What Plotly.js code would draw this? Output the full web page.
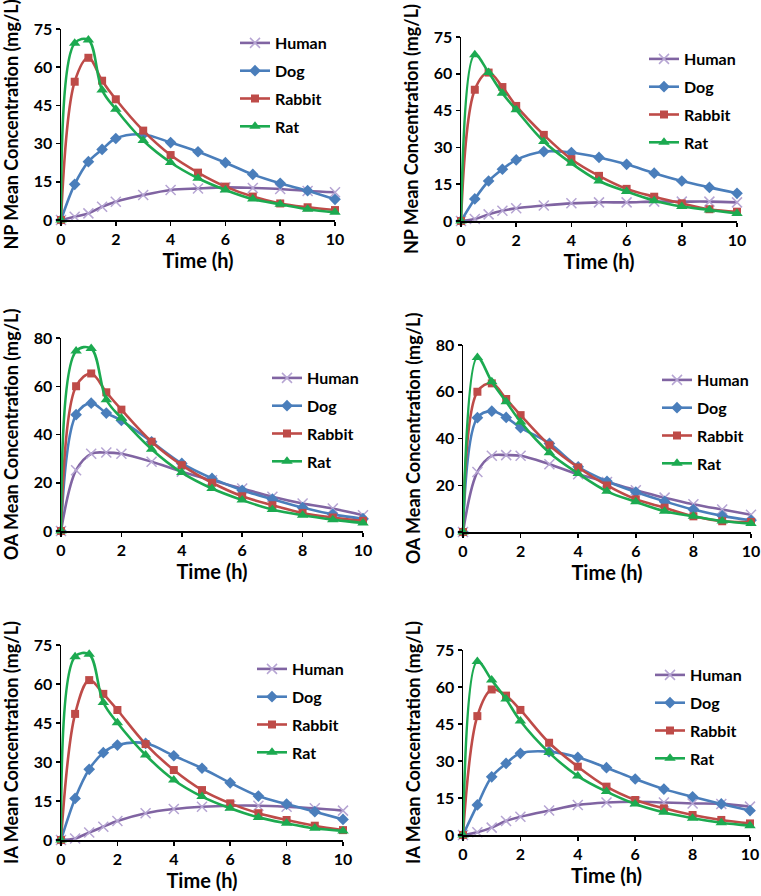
<!DOCTYPE html>
<html>
<head>
<meta charset="utf-8">
<script src="https://cdn.plot.ly/plotly-3.0.1.min.js"></script>
<style>html,body{margin:0;padding:0;background:#fff;} #chart{width:761px;height:896px;}</style>
</head>
<body>
<div id="chart"></div>
<script>
// ---- data ----
const timeH = [0, 0.5, 1, 1.5, 2, 3, 4, 5, 6, 7, 8, 9, 10];
const xTicks = [0, 2, 4, 6, 8, 10];
const species = ['Human', 'Dog', 'Rabbit', 'Rat'];

const npLeftHuman  = [0, 1.3, 2.6, 5.2, 7.2, 9.8, 11.8, 12.4, 12.8, 12.6, 12.2, 11.4, 10.9];
const npLeftDog    = [0, 14, 22.9, 27.7, 32, 33.6, 30.4, 26.8, 22.5, 17.9, 14.4, 11.5, 8.1];
const npLeftRabbit = [0, 54.3, 63.7, 54.7, 47.4, 35.1, 25.5, 18.6, 13.1, 9.2, 6.5, 5.0, 3.9];
const npLeftRat    = [0, 69.4, 70.7, 51, 43.5, 31.2, 22.6, 16.4, 11.8, 8.2, 6.2, 4.2, 3.0];

const npRightHuman  = [0, 0.8, 2.7, 4.2, 5.2, 6.3, 7.2, 7.6, 7.6, 7.9, 7.9, 7.9, 7.6];
const npRightDog    = [0, 9.0, 16.3, 21.1, 24.9, 28.3, 27.9, 25.9, 23.1, 19.5, 16.3, 13.7, 11.3];
const npRightRabbit = [0, 53.5, 60.5, 54.6, 46.9, 35.1, 25.2, 18.4, 13.1, 9.9, 7.2, 4.8, 3.8];
const npRightRat    = [0, 67.8, 60.5, 52.1, 45.3, 32.4, 23.5, 16.3, 12, 8.3, 5.9, 4.5, 3.1];

const oaLeftHuman  = [0, 25.2, 32, 32.5, 32, 28.7, 24.6, 21, 17.6, 14.2, 11.4, 9.3, 6.5];
const oaLeftDog    = [0, 48.2, 53, 48.9, 45.8, 37, 28, 21.8, 16.9, 13.2, 9.7, 6.9, 5.1];
const oaLeftRabbit = [0, 60, 65.3, 57.5, 50.3, 37, 27.3, 20, 14.4, 10.7, 7.5, 5.6, 4.2];
const oaLeftRat    = [0, 74.6, 75.6, 54.4, 46.8, 33.9, 24.2, 17.6, 12.8, 8.9, 6.5, 4.7, 3.3];

const oaRightHuman  = [0, 25.7, 32.6, 32.9, 32.6, 29, 24.7, 21.4, 17.9, 14.7, 11.9, 9.6, 7.4];
const oaRightDog    = [0, 48.9, 51.7, 49, 44.6, 37.9, 27.9, 21.7, 17.1, 13.1, 9.6, 6.9, 5];
const oaRightRabbit = [0, 60, 63.6, 56.9, 50, 37.1, 27.6, 19.9, 14, 10.4, 6.7, 4.6, 4.3];
const oaRightRat    = [0, 74.7, 64.3, 55.7, 47.1, 33.9, 25, 17.4, 12.9, 8.9, 6.7, 4.7, 3.6];

const iaLeftHuman  = [0, 0.6, 2.9, 5.1, 7.3, 10.3, 11.9, 12.8, 13.2, 13.2, 12.8, 12.2, 11.3];
const iaLeftDog    = [0, 16, 27.2, 33.6, 36.5, 37.2, 32.4, 27.6, 22, 16.9, 13.8, 10.9, 7.9];
const iaLeftRabbit = [0, 48.5, 61.5, 56.2, 50, 36.9, 26.9, 19.2, 14.1, 10.3, 7.7, 5.5, 3.8];
const iaLeftRat    = [0, 70.5, 71.4, 52.9, 45.1, 32.7, 23.1, 16.7, 12.2, 8.7, 6.4, 4.5, 3.5];

const iaRightHuman  = [0, 1.1, 3.0, 5.7, 7.4, 9.9, 12.2, 13.2, 13.5, 13.2, 12.8, 12.6, 11.5];
const iaRightDog    = [0, 12.2, 23.6, 29, 33.1, 33.8, 31.5, 27.3, 22.7, 18.6, 15.5, 12.6, 9.9];
const iaRightRabbit = [0, 48.2, 59, 56.5, 50.7, 37.4, 27.7, 19.6, 14.2, 10.8, 8.1, 6.1, 4.7];
const iaRightRat    = [0, 70.3, 62.8, 55.1, 46.2, 33.4, 23.9, 17.6, 12.6, 9.2, 6.8, 5, 3.8];

// ---- styles ----
const W = 761, H = 896;
const FONT = 'Lato, "Open Sans", sans-serif';
const styles = {
  Human:  {line: '#8064A2', marker: {symbol: 'x-thin', size: 10, color: '#B6A5D3', line: {color: '#B6A5D3', width: 1.5}}},
  Dog:    {line: '#4A7EBB', marker: {symbol: 'diamond', size: 9, color: '#4A7EBB'}},
  Rabbit: {line: '#BE4B48', marker: {symbol: 'square', size: 8, color: '#BE4B48'}},
  Rat:    {line: '#1CAA50', marker: {symbol: 'triangle-up', size: 10, color: '#1CAA50'}}
};

const panels = [
  {title: 'NP Mean Concentration (mg/L)', ymax: 75, dy: 15, series: [npLeftHuman, npLeftDog, npLeftRabbit, npLeftRat],
   box: [61, 335, 29, 220], leg: [235, 26]},
  {title: 'NP Mean Concentration (mg/L)', ymax: 75, dy: 15, series: [npRightHuman, npRightDog, npRightRabbit, npRightRat],
   box: [461, 737, 37, 221], leg: [644, 42]},
  {title: 'OA Mean Concentration (mg/L)', ymax: 80, dy: 20, series: [oaLeftHuman, oaLeftDog, oaLeftRabbit, oaLeftRat],
   box: [61, 363, 338, 531], leg: [267, 361]},
  {title: 'OA Mean Concentration (mg/L)', ymax: 80, dy: 20, series: [oaRightHuman, oaRightDog, oaRightRabbit, oaRightRat],
   box: [463, 751, 345, 532], leg: [657, 363]},
  {title: 'IA Mean Concentration (mg/L)', ymax: 75, dy: 15, series: [iaLeftHuman, iaLeftDog, iaLeftRabbit, iaLeftRat],
   box: [61, 343, 645, 840], leg: [252, 652]},
  {title: 'IA Mean Concentration (mg/L)', ymax: 75, dy: 15, series: [iaRightHuman, iaRightDog, iaRightRabbit, iaRightRat],
   box: [463, 750, 650, 835], leg: [650, 658]}
];

const traces = [];
const layout = {
  width: W, height: H,
  margin: {l: 0, r: 0, t: 0, b: 0},
  paper_bgcolor: '#fff', plot_bgcolor: 'rgba(0,0,0,0)',
  font: {family: FONT, color: '#000', weight: 'bold'},
  showlegend: true
};

panels.forEach((p, i) => {
  const n = i + 1;
  const xa = n === 1 ? 'x' : 'x' + n;
  const ya = n === 1 ? 'y' : 'y' + n;
  const legId = n === 1 ? 'legend' : 'legend' + n;
  species.forEach((sp, k) => {
    const st = styles[sp];
    traces.push({
      type: 'scatter', mode: 'lines+markers',
      x: timeH, y: p.series[k], name: sp,
      xaxis: xa, yaxis: ya, legend: legId, legendgroup: 'p' + n + sp,
      line: {color: st.line, width: 2.6, shape: 'spline', smoothing: 1},
      marker: st.marker,
      cliponaxis: false
    });
  });
  const common = {
    showgrid: false, zeroline: false, showline: true,
    linecolor: '#000', linewidth: 1.5,
    ticks: 'outside', ticklen: 4, tickwidth: 1.5, tickcolor: '#000',
    tickfont: {family: FONT, size: 16, color: '#000', weight: 'bold'}
  };
  layout['xaxis' + (n === 1 ? '' : n)] = Object.assign({}, common, {
    domain: [p.box[0] / W, p.box[1] / W], anchor: ya,
    range: [0, 10], tickvals: xTicks, ticktext: xTicks.map(String),
    title: {text: 'Time (h)', font: {family: FONT, size: 20, color: '#000', weight: 'bold'}, standoff: 7}
  });
  layout['yaxis' + (n === 1 ? '' : n)] = Object.assign({}, common, {
    domain: [1 - p.box[3] / H, 1 - p.box[2] / H], anchor: xa,
    range: [0, p.ymax], dtick: p.dy, tick0: 0,
    title: {text: p.title, font: {family: FONT, size: 18, color: '#000', weight: 'bold'}, standoff: 10}
  });
  // overlay axes to give crossed tick marks
  layout['xaxis' + (n + 6)] = {
    overlaying: xa, anchor: ya, range: [0, 10], tickvals: xTicks,
    ticks: 'inside', ticklen: 4, tickwidth: 1.5, tickcolor: '#000',
    showticklabels: false, showgrid: false, zeroline: false, showline: false
  };
  layout['yaxis' + (n + 6)] = {
    overlaying: ya, anchor: xa, range: [0, p.ymax], dtick: p.dy, tick0: 0,
    ticks: 'inside', ticklen: 4, tickwidth: 1.5, tickcolor: '#000',
    showticklabels: false, showgrid: false, zeroline: false, showline: false
  };
  layout[legId] = {
    x: p.leg[0] / W, y: 1 - p.leg[1] / H, xanchor: 'left', yanchor: 'top',
    bgcolor: 'rgba(0,0,0,0)', borderwidth: 0, itemwidth: 30,
    font: {family: FONT, size: 16, color: '#000', weight: 'bold'},
    traceorder: 'grouped', tracegroupgap: 4
  };
});

Plotly.newPlot('chart', traces, layout, {staticPlot: true});
</script>
</body>
</html>
